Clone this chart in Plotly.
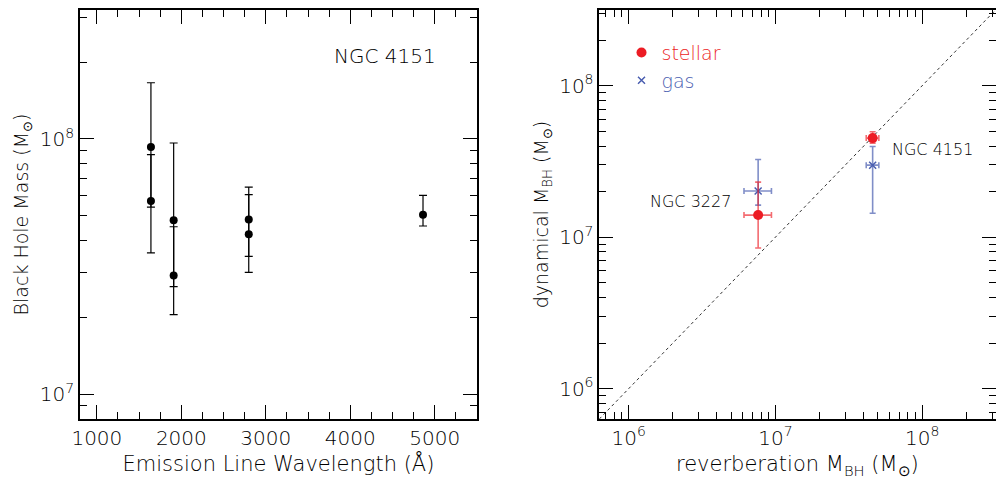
import plotly.graph_objects as go

# ---------------- data ----------------
# Left panel: NGC 4151 black hole mass vs emission-line wavelength
wavelength = [1640, 1640, 1909, 1909, 2798, 2798, 4861]
mass = [9.30e7, 5.71e7, 4.80e7, 2.92e7, 4.84e7, 4.23e7, 5.05e7]
mass_err_hi = [1.66e8, 8.68e7, 9.64e7, 4.53e7, 6.47e7, 6.05e7, 6.01e7]
mass_err_lo = [5.41e7, 3.58e7, 2.64e7, 2.05e7, 3.47e7, 3.00e7, 4.56e7]

# Right panel: dynamical vs reverberation masses
galaxies = ["NGC 3227", "NGC 4151"]
rev_mass = [7.63e6, 4.60e7]
rev_lo = [6.11e6, 4.16e7]
rev_hi = [9.40e6, 5.07e7]
stellar_mass = [1.40e7, 4.51e7]
stellar_hi = [2.31e7, 4.97e7]
stellar_lo = [8.49e6, 4.18e7]
gas_mass = [2.02e7, 2.99e7]
gas_hi = [3.26e7, 3.97e7]
gas_lo = [1.63e7, 1.44e7]
one_to_one = [10**5.8, 10**8.5]

left_yticks = [1e7, 1e8]
left_yticklabels = ["10<sup>7</sup>", "10<sup>8</sup>"]
right_ticks = [1e6, 1e7, 1e8]
right_ticklabels = ["10<sup>6</sup>", "10<sup>7</sup>", "10<sup>8</sup>"]
left_xticks = [1000, 2000, 3000, 4000, 5000]

RED = "#ec1c24"
BLUE = "#4a5eb0"
FONT = "DejaVu Sans"
W = 300

def up(v, hi):
    return [h - x for x, h in zip(v, hi)]

def dn(v, lo):
    return [x - l for x, l in zip(v, lo)]

fig = go.Figure()

# left panel
fig.add_trace(go.Scatter(
    x=wavelength, y=mass, mode="markers", xaxis="x", yaxis="y",
    marker=dict(color="black", size=8),
    error_y=dict(type="data", symmetric=False, array=up(mass, mass_err_hi),
                 arrayminus=dn(mass, mass_err_lo), color="black",
                 thickness=1.2, width=4),
    showlegend=False, hoverinfo="x+y"))

# right panel: 1:1 line
fig.add_trace(go.Scatter(
    x=one_to_one, y=one_to_one, mode="lines", xaxis="x2", yaxis="y2",
    line=dict(color="#333333", width=1, dash="dot"), showlegend=False))

# gas
fig.add_trace(go.Scatter(
    x=rev_mass, y=gas_mass, mode="markers", xaxis="x2", yaxis="y2",
    name='<span style="color:%s">gas</span>' % BLUE,
    marker=dict(color=BLUE, size=7, symbol="x-thin", line=dict(color=BLUE, width=1.5)),
    error_y=dict(type="data", symmetric=False, array=up(gas_mass, gas_hi),
                 arrayminus=dn(gas_mass, gas_lo), color="rgba(74,94,176,0.7)",
                 thickness=1.6, width=3),
    error_x=dict(type="data", symmetric=False, array=up(rev_mass, rev_hi),
                 arrayminus=dn(rev_mass, rev_lo), color="rgba(74,94,176,0.7)",
                 thickness=1.6, width=3)))

# stellar
fig.add_trace(go.Scatter(
    x=rev_mass, y=stellar_mass, mode="markers", xaxis="x2", yaxis="y2",
    name='<span style="color:%s">stellar</span>' % RED,
    marker=dict(color=RED, size=10),
    error_y=dict(type="data", symmetric=False, array=up(stellar_mass, stellar_hi),
                 arrayminus=dn(stellar_mass, stellar_lo), color="rgba(236,28,36,0.65)",
                 thickness=1.6, width=3),
    error_x=dict(type="data", symmetric=False, array=up(rev_mass, rev_hi),
                 arrayminus=dn(rev_mass, rev_lo), color="rgba(236,28,36,0.65)",
                 thickness=1.6, width=3)))

axis_common = dict(showgrid=False, zeroline=False, showline=True, linecolor="black",
                   linewidth=1.5, mirror="ticks", ticks="inside", ticklen=14,
                   tickwidth=1, tickcolor="black", automargin=False,
                   tickfont=dict(family=FONT, size=20, color="black", weight=W))

title_font = dict(family=FONT, size=21, weight=W, color="black")
ytitle_font = dict(family=FONT, size=19, weight=W, color="black")

fig.update_layout(
    width=996, height=481, margin=dict(l=0, r=0, t=0, b=0),
    paper_bgcolor="white", plot_bgcolor="white",
    font=dict(family=FONT, size=18, color="black", weight=W),
    xaxis=dict(domain=[0.0803, 0.4789], range=[800, 5500], tickvals=left_xticks,
               minor=dict(dtick=250, ticks="inside", ticklen=7, tickcolor="black"),
               title=dict(text="Emission Line Wavelength (Å)", standoff=8, font=title_font),
               anchor="y", **axis_common),
    yaxis=dict(domain=[0.1289, 0.9792], type="log", range=[6.903, 8.505],
               tickvals=left_yticks, ticktext=left_yticklabels,
               minor=dict(dtick="D1", ticks="inside", ticklen=7, tickcolor="black"),
               title=dict(text="Black Hole Mass (M<sub>⊙</sub>)", standoff=6, font=ytitle_font),
               anchor="x", **axis_common),
    xaxis2=dict(domain=[0.6017, 0.9995], type="log", range=[5.8, 8.5],
                tickvals=right_ticks, ticktext=right_ticklabels,
                minor=dict(dtick="D1", ticks="inside", ticklen=7, tickcolor="black"),
                title=dict(text="reverberation M<sub>BH</sub> (M<sub>⊙</sub>)", standoff=8,
                           font=title_font),
                anchor="y2", **axis_common),
    yaxis2=dict(domain=[0.1289, 0.9792], type="log", range=[5.8, 8.5],
                tickvals=right_ticks, ticktext=right_ticklabels,
                minor=dict(dtick="D1", ticks="inside", ticklen=7, tickcolor="black"),
                title=dict(text="dynamical M<sub>BH</sub> (M<sub>⊙</sub>)", standoff=6,
                           font=ytitle_font),
                anchor="x2", **axis_common),
    legend=dict(x=0.624, y=0.93, xanchor="left", yanchor="top",
                bgcolor="rgba(0,0,0,0)", font=dict(family=FONT, size=19, weight=W),
                traceorder="reversed", tracegroupgap=0, itemsizing="trace"),
    annotations=[
        dict(text="NGC 4151", x=4415, y=8.3255, xref="x", yref="y", showarrow=False,
             font=dict(family=FONT, size=20, weight=W)),
        dict(text=galaxies[0], x=6.419, y=7.235, xref="x2", yref="y2", showarrow=False,
             font=dict(family=FONT, size=16, weight=W)),
        dict(text=galaxies[1], x=8.073, y=7.582, xref="x2", yref="y2", showarrow=False,
             font=dict(family=FONT, size=16, weight=W)),
    ],
)

fig.write_html("out.html", config={"displayModeBar": False},
               post_script="document.body.style.margin='0px';")
